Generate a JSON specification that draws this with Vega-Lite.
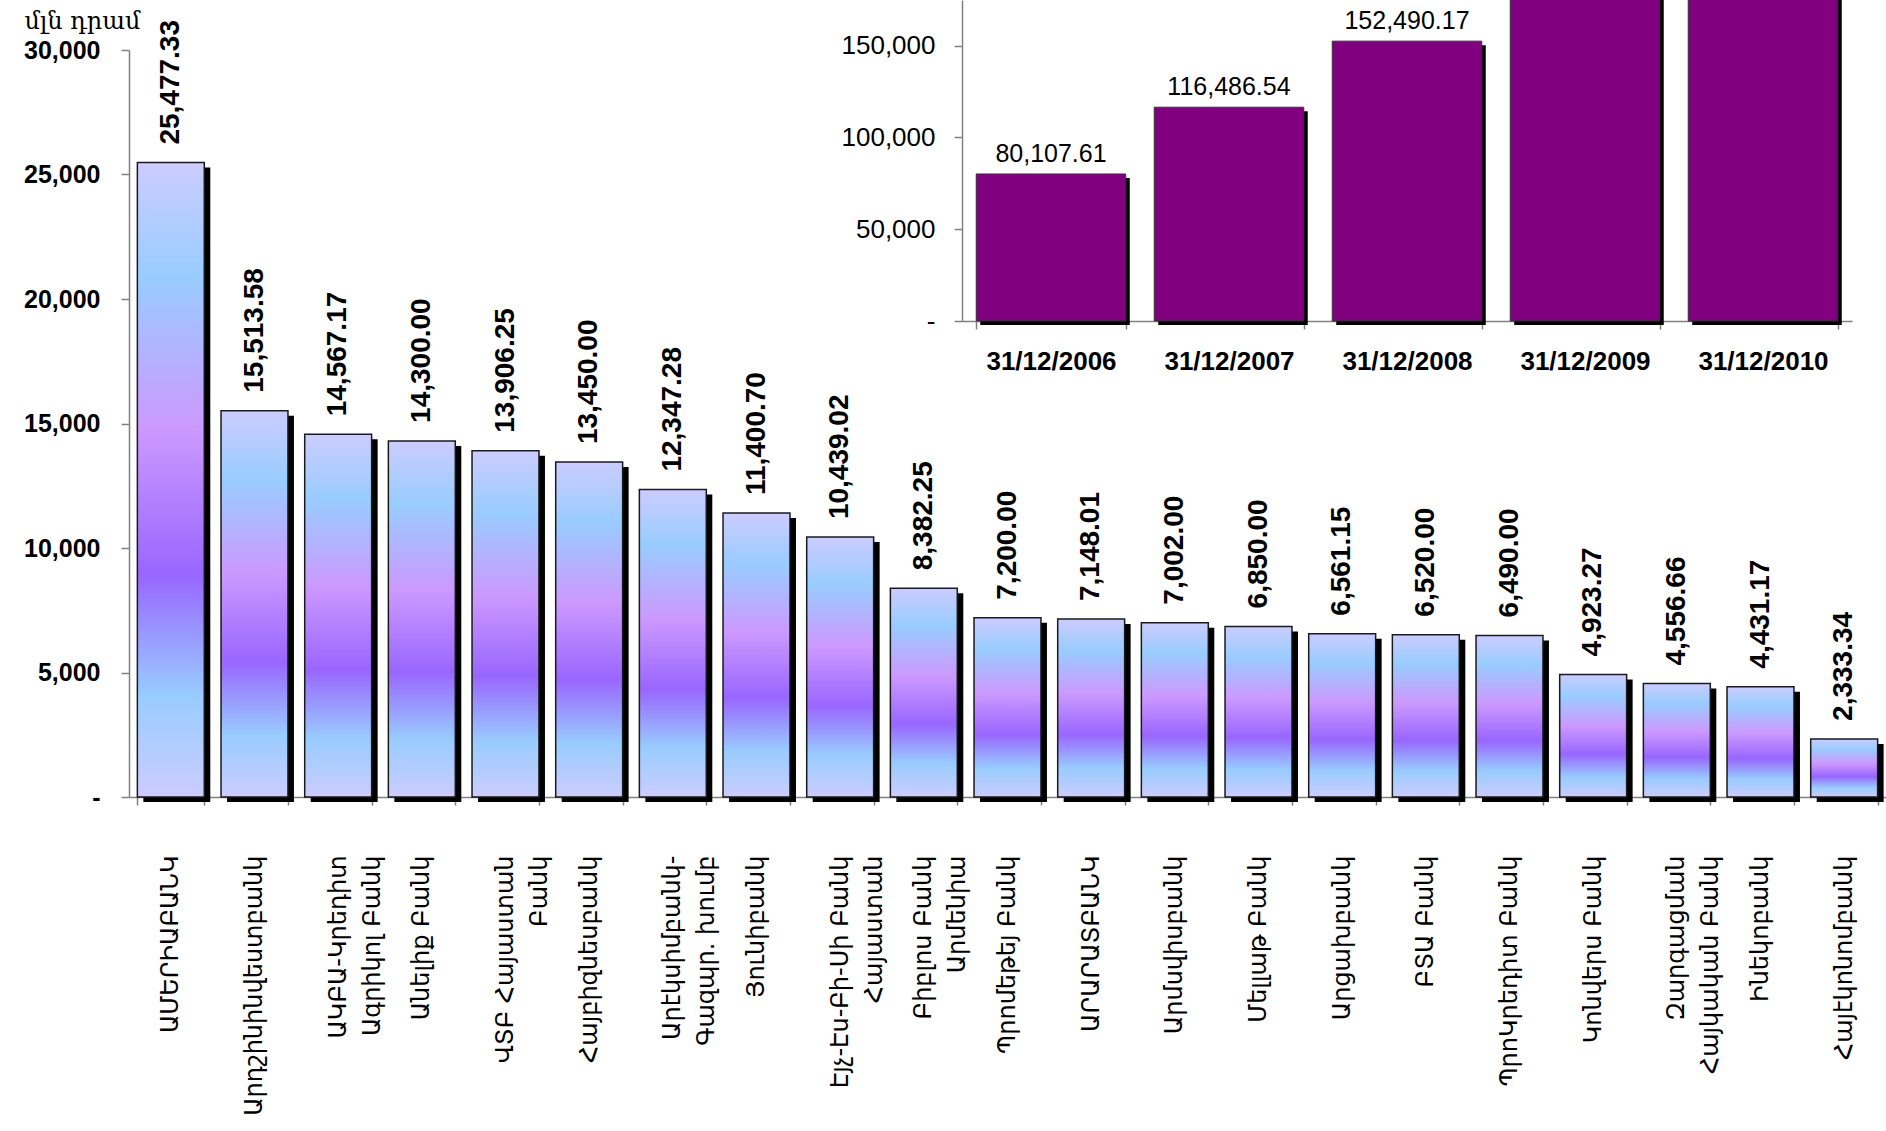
{
  "$schema": "https://vega.github.io/schema/vega-lite/v6.json",
  "width": 1757,
  "height": 747,
  "autosize": {"type": "none"},
  "padding": {"left": 129, "top": 50, "right": 0, "bottom": 334},
  "background": "white",
  "config": {"view": {"stroke": null}, "axis": {"grid": false}},
  "datasets": {
    "banks": [
      {"bank": "ԱՄԵՐԻԱԲԱՆԿ", "value": 25477.33},
      {"bank": "Արդշինինվեստբանկ", "value": 15513.58},
      {"bank": "ԱԿԲԱ-Կրեդիտ|Ագրիկոլ Բանկ", "value": 14567.17},
      {"bank": "Անելիք Բանկ", "value": 14300.00},
      {"bank": "ՎՏԲ Հայաստան|Բանկ", "value": 13906.25},
      {"bank": "Հայբիզնեսբանկ", "value": 13450.00},
      {"bank": "Արէկսիմբանկ-|Գազպր. խումբ", "value": 12347.28},
      {"bank": "Յունիբանկ", "value": 11400.70},
      {"bank": "Էյչ-Էս-Բի-Սի Բանկ|Հայաստան", "value": 10439.02},
      {"bank": "Բիբլոս Բանկ|Արմենիա", "value": 8382.25},
      {"bank": "Պրոմեթեյ Բանկ", "value": 7200.00},
      {"bank": "ԱՐԱՐԱՏԲԱՆԿ", "value": 7148.01},
      {"bank": "Արմսվիսբանկ", "value": 7002.00},
      {"bank": "Մելլաթ Բանկ", "value": 6850.00},
      {"bank": "Արցախբանկ", "value": 6561.15},
      {"bank": "ԲՏԱ Բանկ", "value": 6520.00},
      {"bank": "ՊրոԿրեդիտ Բանկ", "value": 6490.00},
      {"bank": "Կոնվերս Բանկ", "value": 4923.27},
      {"bank": "Զարգացման|Հայկական Բանկ", "value": 4556.66},
      {"bank": "Ինեկոբանկ", "value": 4431.17},
      {"bank": "Հայէկոնոմբանկ", "value": 2333.34}
    ],
    "years": [
      {"date": "31/12/2006", "value": 80107.61},
      {"date": "31/12/2007", "value": 116486.54},
      {"date": "31/12/2008", "value": 152490.17},
      {"date": "31/12/2009", "value": 185000},
      {"date": "31/12/2010", "value": 203799.18}
    ]
  },
  "layer": [
    {
      "data": {"name": "banks"},
      "encoding": {
        "x": {
          "field": "bank", "type": "nominal", "sort": null,
          "scale": {"paddingInner": 0.2, "paddingOuter": 0.1},
          "axis": {
            "title": null, "labelAngle": -90, "labelExpr": "split(datum.label, '|')",
            "labelFont": "DejaVu Sans", "labelFontSize": 24, "labelColor": "black",
            "labelLineHeight": 34, "labelLimit": 0, "labelPadding": 50,
            "tickBand": "extent", "tickSize": 8, "tickColor": "#808080", "tickWidth": 1.5,
            "domainColor": "#808080", "domainWidth": 1.5
          }
        },
        "y": {
          "field": "value", "type": "quantitative",
          "scale": {"domain": [0, 30000], "nice": false},
          "axis": {
            "values": [0, 5000, 10000, 15000, 20000, 25000, 30000], "format": ",.0f",
            "labelExpr": "datum.value === 0 ? '-' : datum.label",
            "labelFont": "Liberation Sans", "labelFontWeight": "bold", "labelFontSize": 25,
            "labelColor": "black", "labelPadding": 21,
            "tickSize": 8, "tickColor": "#808080", "tickWidth": 1.5,
            "domainColor": "#808080", "domainWidth": 1.5,
            "title": "մլն դրամ", "titleAngle": 0, "titleAlign": "left", "titleBaseline": "alphabetic",
            "titleX": -105, "titleY": -22, "titleFont": "DejaVu Serif", "titleFontSize": 24,
            "titleFontWeight": "normal", "titleColor": "black"
          }
        }
      },
      "layer": [
        {"mark": {"type": "bar", "fill": "black", "xOffset": 6, "yOffset": 5}},
        {"mark": {"type": "bar", "stroke": "#1a1a1a", "strokeWidth": 1.5,
          "fill": {"gradient": "linear", "x1": 0, "y1": 0, "x2": 0, "y2": 1, "stops": [
            {"offset": 0, "color": "#ccccff"},
            {"offset": 0.18, "color": "#99ccff"},
            {"offset": 0.42, "color": "#cc99ff"},
            {"offset": 0.65, "color": "#9966ff"},
            {"offset": 0.84, "color": "#99ccff"},
            {"offset": 1, "color": "#ccccff"}
          ]}}},
        {"mark": {"type": "text", "angle": -90, "align": "left", "baseline": "middle", "dx": 18,
          "font": "Liberation Sans", "fontWeight": "bold", "fontSize": 28, "color": "black"},
         "encoding": {"text": {"field": "value", "type": "quantitative", "format": ",.2f"}}}
      ]
    },
    {
      "data": {"name": "years"},
      "encoding": {
        "x": {
          "field": "date", "type": "nominal", "sort": null,
          "scale": {"range": [833, 1723], "paddingInner": 0.16, "paddingOuter": 0.08},
          "axis": {
            "orient": "bottom", "offset": -476, "title": null, "labelAngle": 0,
            "labelFont": "Liberation Sans", "labelFontWeight": "bold", "labelFontSize": 26,
            "labelColor": "black", "labelPadding": 19,
            "tickBand": "extent", "tickSize": 8, "tickColor": "#808080", "tickWidth": 1.5,
            "domainColor": "#808080", "domainWidth": 1.5
          }
        },
        "y": {
          "field": "value", "type": "quantitative",
          "scale": {"domain": [0, 174900], "range": [271, -50], "nice": false},
          "axis": {
            "orient": "left", "offset": -833, "title": null,
            "values": [0, 50000, 100000, 150000], "format": ",.0f",
            "labelExpr": "datum.value === 0 ? '-' : datum.label",
            "labelFont": "Liberation Sans", "labelFontSize": 26, "labelColor": "black",
            "labelPadding": 19, "tickSize": 8, "tickColor": "#808080", "tickWidth": 1.5,
            "domainColor": "#808080", "domainWidth": 1.5
          }
        }
      },
      "layer": [
        {"mark": {"type": "bar", "fill": "black", "xOffset": 4, "yOffset": 4}},
        {"mark": {"type": "bar", "fill": "#800080", "stroke": "#333333", "strokeWidth": 1}},
        {"transform": [{"filter": "datum.value < 160000"}],
         "mark": {"type": "text", "align": "center", "baseline": "alphabetic", "dy": -12,
          "font": "Liberation Sans", "fontSize": 25, "color": "black"},
         "encoding": {"text": {"field": "value", "type": "quantitative", "format": ",.2f"}}}
      ]
    }
  ],
  "resolve": {
    "scale": {"x": "independent", "y": "independent"},
    "axis": {"x": "independent", "y": "independent"}
  }
}
